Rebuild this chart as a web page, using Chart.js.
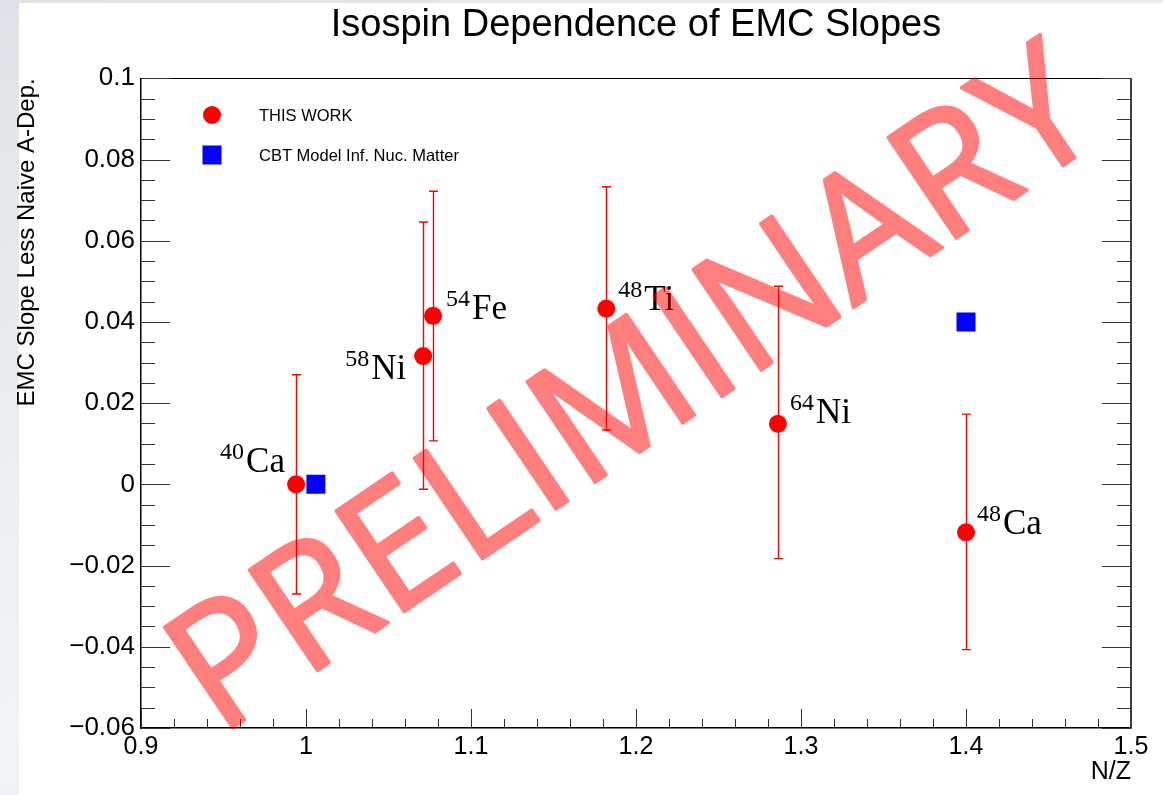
<!DOCTYPE html>
<html>
<head>
<meta charset="utf-8">
<title>Isospin Dependence of EMC Slopes</title>
<script src="https://cdn.jsdelivr.net/npm/chart.js@4.4.1/dist/chart.umd.min.js"></script>
<style>
    html, body { margin: 0; padding: 0; }
    body {
        width: 1163px;
        height: 795px;
        overflow: hidden;
        background: linear-gradient(160deg, #dfe3e7, #f3f4f6 60%, #eceef1);
    }
    #chart { display: block; }
</style>
</head>
<body>
<canvas id="chart" width="1163" height="795"></canvas>
<script>
// measured EMC slopes (less naive A-dependence) vs N/Z
const massNumbers = [40, 58, 54, 48, 64, 48];
const elements = ['Ca', 'Ni', 'Fe', 'Ti', 'Ni', 'Ca'];
const nOverZ = [0.994, 1.071, 1.077, 1.182, 1.286, 1.400];
const slopes = [0.0000, 0.0316, 0.0415, 0.0433, 0.0149, -0.0118];
const errLow = [-0.0270, -0.0012, 0.0107, 0.0134, -0.0183, -0.0407];
const errHigh = [0.0270, 0.0646, 0.0722, 0.0733, 0.0488, 0.0173];

// CBT model, infinite nuclear matter
const cbtNOverZ = [1.006, 1.400];
const cbtSlopes = [0.000, 0.040];

const xTicks = [0.9, 1.0, 1.1, 1.2, 1.3, 1.4, 1.5];
const yTicks = [-0.06, -0.04, -0.02, 0, 0.02, 0.04, 0.06, 0.08, 0.1];

// label offsets from each point, in pixels
const labelOffsets = [[-76, -12], [-78, 23], [13, 3], [12, 1], [12, -1], [11, 2]];

const sans = '"Liberation Sans", Arial, sans-serif';
const serif = '"Liberation Serif", "Times New Roman", serif';

function fmt(v) {
    if (Math.abs(v) < 1e-9) return '0';
    const s = String(+Math.abs(v).toFixed(2));
    return (v < 0 ? '\u2212' : '') + s;
}

const extras = {
    id: 'extras',
    beforeDraw(chart) {
        const ctx = chart.ctx;
        ctx.save();
        ctx.fillStyle = '#ffffff';
        ctx.fillRect(19, 3, chart.width - 19, chart.height - 3);
        ctx.restore();
    },
    beforeDatasetsDraw(chart) {
        const ctx = chart.ctx;
        const xs = chart.scales.x, ys = chart.scales.y;
        ctx.save();
        ctx.strokeStyle = '#ff0000';
        ctx.lineWidth = 1.4;
        nOverZ.forEach((nz, i) => {
            const px = Math.round(xs.getPixelForValue(nz)) + 0.5;
            const top = ys.getPixelForValue(errHigh[i]);
            const bot = ys.getPixelForValue(errLow[i]);
            ctx.beginPath();
            ctx.moveTo(px, top); ctx.lineTo(px, bot);
            ctx.moveTo(px - 4.5, top); ctx.lineTo(px + 4.5, top);
            ctx.moveTo(px - 4.5, bot); ctx.lineTo(px + 4.5, bot);
            ctx.stroke();
        });
        ctx.restore();
    },
    afterDatasetsDraw(chart) {
        const ctx = chart.ctx;
        const xs = chart.scales.x, ys = chart.scales.y;
        const a = chart.chartArea;
        ctx.save();

        // nucleus labels
        ctx.fillStyle = '#000';
        ctx.textBaseline = 'alphabetic';
        ctx.textAlign = 'left';
        nOverZ.forEach((nz, i) => {
            let x = xs.getPixelForValue(nz) + labelOffsets[i][0];
            const y = ys.getPixelForValue(slopes[i]) + labelOffsets[i][1];
            ctx.font = '24px ' + serif;
            ctx.fillText(String(massNumbers[i]), x, y - 13);
            x += ctx.measureText(String(massNumbers[i])).width + 2;
            ctx.font = '35px ' + serif;
            ctx.fillText(elements[i], x, y);
        });

        // frame: top and right edges
        ctx.strokeStyle = '#000';
        ctx.lineWidth = 1;
        ctx.beginPath();
        ctx.moveTo(a.left, Math.round(a.top) + 0.5);
        ctx.lineTo(a.right, Math.round(a.top) + 0.5);
        ctx.stroke();
        ctx.lineWidth = 1.5;
        ctx.beginPath();
        ctx.moveTo(a.right, a.top);
        ctx.lineTo(a.right, a.bottom);
        ctx.stroke();

        // inside ticks, left and right
        ctx.lineWidth = 1;
        ctx.strokeStyle = '#333';
        ctx.beginPath();
        for (let k = 0; k <= 32; k++) {
            const v = -0.06 + k * 0.005;
            const py = Math.round(ys.getPixelForValue(v)) + 0.5;
            const len = k % 4 === 0 ? 29 : 14;
            ctx.moveTo(a.left, py); ctx.lineTo(a.left + len, py);
            ctx.moveTo(a.right, py); ctx.lineTo(a.right - len, py);
        }
        // bottom ticks
        for (let k = 0; k <= 30; k++) {
            const v = 0.9 + k * 0.02;
            const px = Math.round(xs.getPixelForValue(v)) + 0.5;
            const len = k % 5 === 0 ? 19 : 9;
            ctx.moveTo(px, a.bottom); ctx.lineTo(px, a.bottom - len);
        }
        ctx.stroke();

        // legend
        const ds = chart.data.datasets;
        const rows = [115, 155];
        ds.forEach((d, i) => {
            const y = rows[i];
            ctx.fillStyle = d.pointBackgroundColor;
            if (d.pointStyle === 'circle') {
                ctx.beginPath();
                ctx.arc(212, y, 9, 0, Math.PI * 2);
                ctx.fill();
            } else {
                ctx.fillRect(202.5, y - 9.5, 19, 19);
            }
            ctx.fillStyle = '#000';
            ctx.font = '16.5px ' + sans;
            ctx.textBaseline = 'middle';
            ctx.fillText(d.label, 259, y + 1);
        });
        ctx.restore();
    },
    afterDraw(chart) {
        // watermark drawn opaque offscreen, then laid on at half alpha
        const off = document.createElement('canvas');
        off.width = chart.width;
        off.height = chart.height;
        const o = off.getContext('2d');
        o.translate(219, 737);
        o.rotate(-34.1 * Math.PI / 180);
        o.fillStyle = '#ff0000';
        o.strokeStyle = '#ff0000';
        o.lineWidth = 3.5;
        o.lineJoin = 'round';
        o.font = '170px "Open Sans", sans-serif';
        o.textBaseline = 'alphabetic';
        o.textAlign = 'left';
        o.fillText('PRELIMINARY', 0, 0);
        o.strokeText('PRELIMINARY', 0, 0);

        const ctx = chart.ctx;
        ctx.save();
        ctx.setTransform(1, 0, 0, 1, 0, 0);
        ctx.globalAlpha = 0.5;
        ctx.drawImage(off, 0, 0);
        ctx.restore();
    }
};

const chart = document.querySelector('#chart').getContext('2d');

new Chart(chart, {
    type: 'scatter',
    data: {
        datasets: [
            {
                label: 'THIS WORK',
                data: nOverZ.map((x, i) => ({ x: x, y: slopes[i] })),
                pointStyle: 'circle',
                pointRadius: 9,
                pointBackgroundColor: '#ff0000',
                pointBorderWidth: 0
            },
            {
                label: 'CBT Model Inf. Nuc. Matter',
                data: cbtNOverZ.map((x, i) => ({ x: x, y: cbtSlopes[i] })),
                pointStyle: 'rect',
                pointRadius: 13.43,
                pointBackgroundColor: '#0000ff',
                pointBorderWidth: 0
            }
        ]
    },
    options: {
        responsive: false,
        animation: false,
        devicePixelRatio: 1,
        events: [],
        layout: { padding: { left: 0, right: 32, top: 0, bottom: 0 } },
        plugins: {
            legend: { display: false },
            tooltip: { enabled: false },
            title: {
                display: true,
                fullSize: false,
                text: 'Isospin Dependence of EMC Slopes',
                color: '#000',
                font: { family: sans, size: 38, weight: 'normal' },
                padding: { top: 3, bottom: 29.7 }
            }
        },
        scales: {
            x: {
                type: 'linear',
                min: 0.9,
                max: 1.5,
                afterBuildTicks: s => { s.ticks = xTicks.map(v => ({ value: v })); },
                afterFit: s => { s.height = 67; },
                grid: { display: false, drawTicks: false },
                border: { display: true, color: '#000', width: 1.5 },
                ticks: {
                    color: '#000',
                    padding: 4,
                    maxRotation: 0,
                    font: { family: sans, size: 25 },
                    callback: v => fmt(v)
                },
                title: {
                    display: true,
                    text: 'N/Z',
                    align: 'end',
                    color: '#000',
                    font: { family: sans, size: 25 },
                    padding: { top: 0, bottom: 7.6 }
                }
            },
            y: {
                type: 'linear',
                min: -0.06,
                max: 0.1,
                afterBuildTicks: s => { s.ticks = yTicks.map(v => ({ value: v })); },
                afterFit: s => { s.width = 141; },
                grid: { display: false, drawTicks: false },
                border: { display: true, color: '#000', width: 1.5 },
                ticks: {
                    color: '#000',
                    padding: 6,
                    font: { family: sans, size: 26 },
                    callback: v => fmt(v)
                },
                title: {
                    display: true,
                    text: 'EMC Slope Less Naive A-Dep.',
                    align: 'end',
                    color: '#000',
                    font: { family: sans, size: 24 },
                    padding: { top: 13, bottom: 0 }
                }
            }
        }
    },
    plugins: [extras]
})
</script>
</body>
</html>
